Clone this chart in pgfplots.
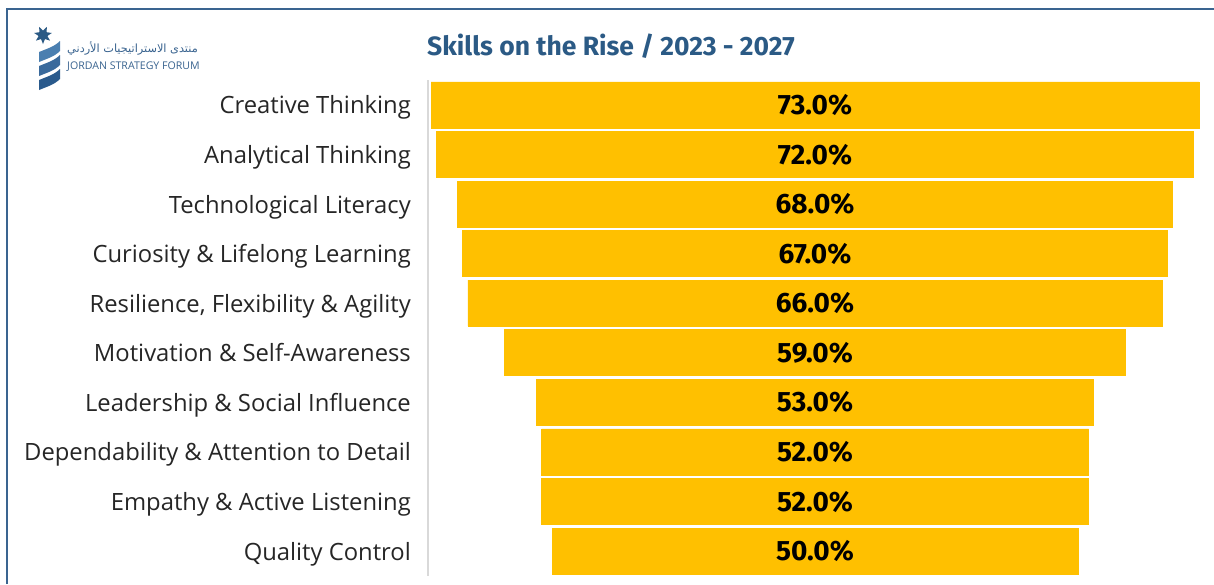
\documentclass[border=0pt]{standalone}
\usepackage{pgfplots}
\pgfplotsset{compat=1.18}
\usepackage{pgfplotstable}
\usepackage{fontspec}
\setmainfont{Open Sans}
\newfontfamily\valfont{Fira Sans}
\newfontfamily\titlefont{Fira Sans}
\newfontfamily\arabicfont[Script=Arabic]{DejaVu Sans}
\TeXXeTstate=1
\usetikzlibrary{shapes.geometric}

\definecolor{barc}{HTML}{FFC000}
\definecolor{framec}{HTML}{3A6490}
\definecolor{titlec}{HTML}{2B5A85}
\definecolor{axisc}{HTML}{D9D9D9}
\definecolor{labc}{HTML}{262626}

% share of skills on the rise, top to bottom
\pgfplotstableread{
y v
0 73
1 72
2 68
3 67
4 66
5 59
6 53
7 52
8 52
9 50
}\skills

\begin{document}
\begin{tikzpicture}[x=1pt,y=1pt]
\useasboundingbox (0,0) rectangle (1214,-584);
\fill[white] (0,0) rectangle (1214,-584);
\draw[framec,line width=1.5pt] (7,-584) -- (7,-9) -- (1214,-9);

% logo
\node[star,star points=7,star point ratio=0.5,fill=titlec,minimum size=9pt,inner sep=0pt] at (43,-35) {};
\foreach \dy/\c in {0/4A7FB0,14/3A6A9C,28/2A5A8C}{
  \definecolor{tmp}{HTML}{\c}
  \fill[tmp] (39,-52-\dy) .. controls (46,-49-\dy) and (54,-47-\dy) .. (60,-41-\dy)
    -- (60,-51-\dy) .. controls (54,-57-\dy) and (46,-59-\dy) .. (39,-62-\dy) -- cycle;
}
\node[anchor=west,inner sep=0pt,text=framec] at (67,-48)
  {\arabicfont\fontsize{11.3}{13}\selectfont\beginR منتدى الاستراتيجيات الأردني\endR};
\node[anchor=west,inner sep=0pt,text=framec] at (67,-67)
  {\fontsize{10.6}{12}\selectfont JORDAN STRATEGY FORUM};

% title
\node[anchor=west,inner sep=0pt,text=titlec] at (427,-46)
  {\titlefont\bfseries\fontsize{26.5}{30}\selectfont Skills on the Rise / 2023 - 2027};

\begin{axis}[
  at={(428pt,-80.2pt)}, anchor=north west,
  scale only axis, width=786pt, height=495.6pt,
  xmin=-36.79, xmax=37.93, ymin=-0.5, ymax=9.5, y dir=reverse,
  axis x line=none, axis y line*=left,
  y axis line style={axisc,line width=2pt,-},
  xtick=\empty, ytick={0,...,9}, major tick length=0pt,
  yticklabels={Creative Thinking, Analytical Thinking, Technological Literacy,
    Curiosity \& Lifelong Learning, {Resilience, Flexibility \& Agility},
    Motivation \& Self-Awareness, Leadership \& Social Influence,
    Dependability \& Attention to Detail, Empathy \& Active Listening,
    Quality Control},
  yticklabel style={anchor=base east,inner sep=0pt,xshift=-17pt,yshift=-9pt,text=labc,
    font=\fontsize{23.8}{26}\selectfont},
  /pgf/number format/assume math mode=true,
  clip=false,
]
\addplot[xbar,bar width=46pt,bar shift=0pt,fill=barc,draw=barc,line width=0.6pt]
  table[x expr=-\thisrow{v}/2,y=y] {\skills};
\addplot[xbar,bar width=46pt,bar shift=0pt,fill=barc,draw=barc,line width=0.6pt]
  table[x expr=\thisrow{v}/2,y=y] {\skills};
\addplot[draw=none,mark=none,point meta=\thisrow{v},
  nodes near coords={\pgfmathprintnumber[fixed,fixed zerofill,precision=1]{\pgfplotspointmeta}\%},
  nodes near coords style={anchor=center,text=black,font=\valfont\bfseries\fontsize{28}{30}\selectfont}]
  table[x expr=0,y=y] {\skills};
\end{axis}
\end{tikzpicture}
\end{document}
